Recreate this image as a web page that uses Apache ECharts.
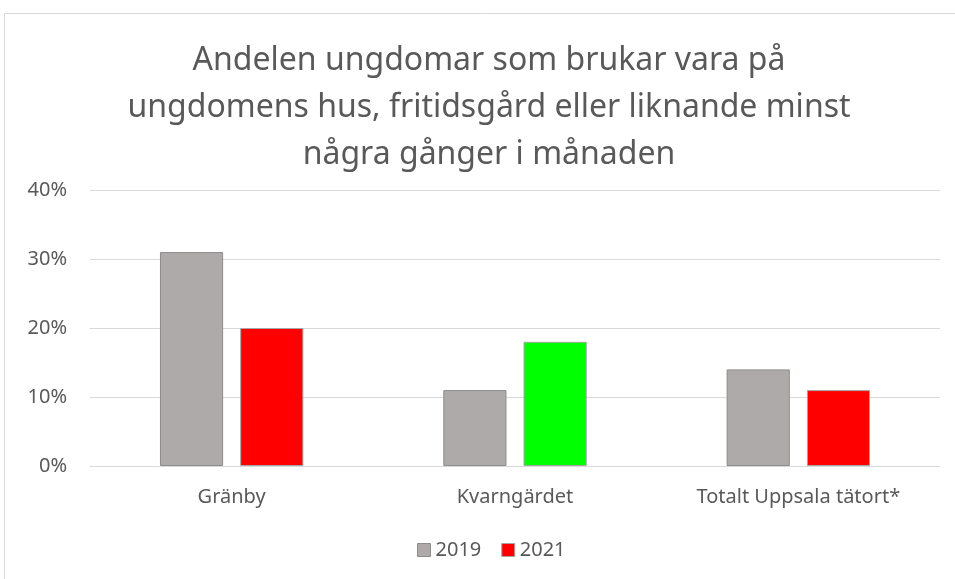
<!DOCTYPE html>
<html>
<head>
<meta charset="utf-8">
<script src="https://cdn.jsdelivr.net/npm/echarts@6/dist/echarts.min.js"></script>
<style>
html,body{margin:0;padding:0;background:#fff;}
#chart{width:955px;height:579px;}
</style>
</head>
<body>
<div id="chart"></div>
<script>
var categories = ['Gränby', 'Kvarngärdet', 'Totalt Uppsala tätort*'];
var values2019 = [31, 11, 14];
var values2021 = [20, 18, 11];
var colors2021 = ['#ff0000', '#00ff00', '#ff0000'];

var textColor = '#595959';
var fontName = 'Noto Sans';

var myChart = echarts.init(document.getElementById('chart'));
var data2021 = [];
for (var i = 0; i < values2021.length; i++) {
	data2021.push({
		value: values2021[i],
		itemStyle: { color: colors2021[i] }
	});
}

var option = {
	animation: false,
	title: {
		text: 'Andelen ungdomar som brukar vara på\nungdomens hus, fritidsgård eller liknande minst\nnågra gånger i månaden',
		left: 489,
		top: 37,
		textAlign: 'center',
		padding: 0,
		textStyle: {
			color: textColor,
			fontFamily: fontName,
			fontWeight: 'normal',
			fontSize: 32,
			lineHeight: 47
		}
	},
	graphic: [{
		type: 'rect',
		shape: { x: 4.5, y: 13.5, width: 1000, height: 1000 },
		style: { fill: 'none', stroke: '#d9d9d9', lineWidth: 1 },
		silent: true
	}],
	legend: {
		bottom: 19,
		left: 417,
		padding: 0,
		itemWidth: 13,
		itemHeight: 13,
		itemGap: 20,
		icon: 'rect',
		textStyle: { color: textColor, fontFamily: fontName, fontSize: 20 },
		data: [
			{ name: '2019', itemStyle: { color: '#aeaaaa', borderColor: '#8c8c8c', borderWidth: 1 } },
			{ name: '2021', itemStyle: { color: '#ff0000', borderColor: '#a6a6a6', borderWidth: 1 } }
		]
	},
	grid: { left: 90, right: 15, top: 190, bottom: 113, containLabel: false },
	xAxis: {
		type: 'category',
		data: categories,
		axisTick: { show: false },
		axisLine: { lineStyle: { color: '#d9d9d9', width: 1 } },
		axisLabel: { color: textColor, fontFamily: fontName, fontSize: 20, margin: 21 }
	},
	yAxis: {
		type: 'value',
		min: 0,
		max: 40,
		interval: 10,
		axisLine: { show: false },
		axisTick: { show: false },
		splitLine: { lineStyle: { color: '#d9d9d9', width: 1 } },
		axisLabel: { color: textColor, fontFamily: fontName, fontSize: 20, margin: 23, formatter: '{value}%' }
	},
	series: [
		{
			name: '2019',
			type: 'bar',
			data: values2019,
			barWidth: '22.3%',
			barGap: '27%',
			itemStyle: { color: '#aeaaaa', borderColor: '#8c8c8c', borderWidth: 1 }
		},
		{
			name: '2021',
			type: 'bar',
			data: data2021,
			barWidth: '22.3%',
			itemStyle: { borderColor: '#a6a6a6', borderWidth: 1 }
		}
	]
};
myChart.setOption(option);
</script>
</body>
</html>
